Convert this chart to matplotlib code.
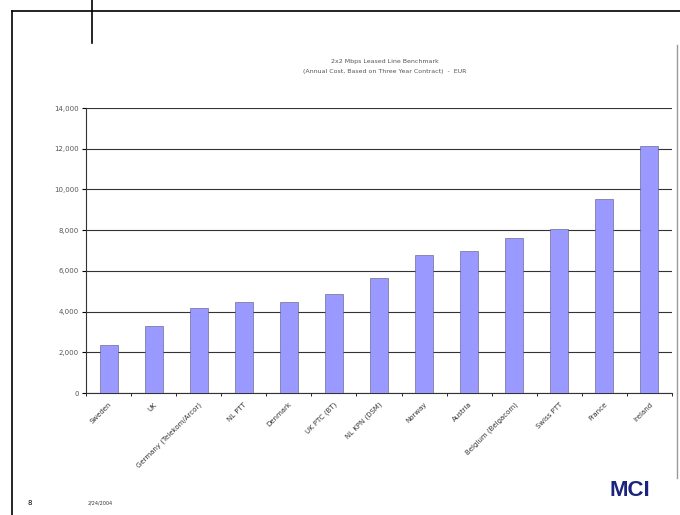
import matplotlib.pyplot as plt
import numpy as np
from matplotlib.lines import Line2D

# benchmark data
countries = ['Sweden', 'UK', 'Germany (Telekom/Arcor)', 'NL PTT', 'Denmark',
             'UK PTC (BT)', 'NL KPN (DSM)', 'Norway', 'Austria',
             'Belgium (Belgacom)', 'Swiss PTT', 'France', 'Ireland']
cost_eur = [2370, 3270, 4190, 4450, 4450, 4840, 5630, 6790, 6990,
            7590, 8070, 9540, 12110]
y_ticks = [0, 2000, 4000, 6000, 8000, 10000, 12000, 14000]

fig = plt.figure(figsize=(6.8, 5.15), dpi=100)

# slide frame
fig.add_artist(Line2D([12/680, 1], [1 - 11/515, 1 - 11/515], color='black', lw=1.2))
fig.add_artist(Line2D([12/680, 12/680], [0, 1 - 11/515], color='black', lw=1.2))
fig.add_artist(Line2D([92/680, 92/680], [1 - 43/515, 1], color='black', lw=1.2))
fig.add_artist(Line2D([677/680, 677/680], [1 - 478/515, 1 - 45/515], color='#999999', lw=1))

ax = fig.add_axes([86/680, 1 - 393/515, 586/680, 285/515])
x = np.arange(len(countries))
ax.bar(x, cost_eur, width=0.4, color='#9999FF', edgecolor='#555577', linewidth=0.4, zorder=3)

ax.set_ylim(0, 14000)
ax.set_xlim(-0.5, len(countries) - 0.5)
ax.set_yticks(y_ticks)
ax.set_yticklabels([f'{v:,}' for v in y_ticks], fontsize=5, color='#555555')
ax.yaxis.grid(True, color='#333333', linewidth=0.8, zorder=0)
ax.set_xticks(x)
ax.set_xticklabels(countries, rotation=45, ha='right', rotation_mode='anchor',
                   fontsize=5, color='#333333')
ax.tick_params(axis='x', length=0, pad=6)
ax.set_xticks(np.arange(-0.5, len(countries)), minor=True)
ax.tick_params(axis='x', which='minor', length=2, direction='out')
ax.tick_params(axis='y', length=3, direction='out', pad=2)
for s in ['top', 'right']:
    ax.spines[s].set_visible(False)
for s in ['left', 'bottom']:
    ax.spines[s].set_color('#333333')

fig.text(385/680, 1 - 61/515, '2x2 Mbps Leased Line Benchmark', ha='center', va='center',
         fontsize=4.5, color='#555555')
fig.text(385/680, 1 - 71/515, '(Annual Cost, Based on Three Year Contract)  -  EUR',
         ha='center', va='center', fontsize=4.5, color='#555555')

# footer
fig.text(28/680, 1 - 503/515, '8', fontsize=5, va='center')
fig.text(88/680, 1 - 503/515, '2/24/2004', fontsize=3.5, va='center', color='#333333')
fig.text(630/680, 1 - 491/515, 'MCI', fontsize=16, fontweight='bold', color='#1a237e',
         ha='center', va='center', family='Liberation Sans')

fig.savefig('out.png', dpi=100)
